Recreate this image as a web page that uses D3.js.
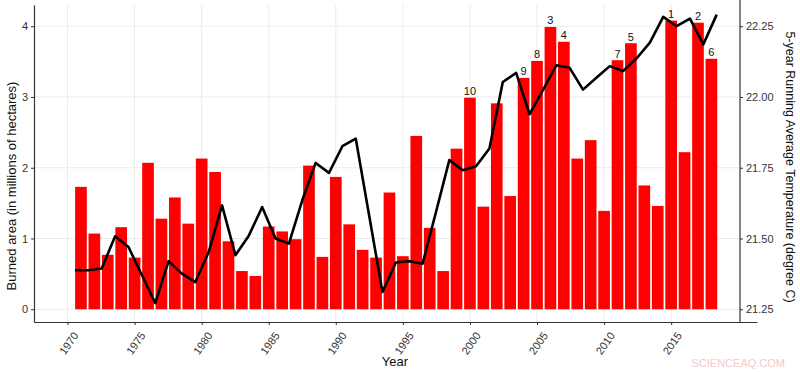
<!DOCTYPE html>
<html>
<head>
<meta charset="utf-8">
<script src="https://cdn.jsdelivr.net/npm/d3@7"></script>
<style>
  body { margin: 0; background: #fff; }
  text { font-family: "Liberation Sans", Arial, sans-serif; }
</style>
</head>
<body>
<div id="chart"></div>
<script>
// Chart size
const width = 800;
const height = 372;

// Burned area per year (millions of hectares)
const years = [1971, 1972, 1973, 1974, 1975, 1976, 1977, 1978, 1979, 1980,
               1981, 1982, 1983, 1984, 1985, 1986, 1987, 1988, 1989, 1990,
               1991, 1992, 1993, 1994, 1995, 1996, 1997, 1998, 1999, 2000,
               2001, 2002, 2003, 2004, 2005, 2006, 2007, 2008, 2009, 2010,
               2011, 2012, 2013, 2014, 2015, 2016, 2017, 2018];
const burned = [1.73, 1.07, 0.77, 1.16, 0.73, 2.07, 1.28, 1.58, 1.21, 2.13,
                1.94, 0.96, 0.54, 0.47, 1.17, 1.10, 0.99, 2.03, 0.74, 1.87,
                1.20, 0.84, 0.73, 1.65, 0.75, 2.45, 1.15, 0.54, 2.27, 2.99,
                1.45, 2.91, 1.60, 3.27, 3.51, 3.99, 3.78, 2.13, 2.39, 1.39,
                3.52, 3.76, 1.75, 1.46, 4.08, 2.22, 4.05, 3.54];

// Top ten years, in rank order (1 = largest)
const rankedYears = [2015, 2017, 2006, 2007, 2012, 2018, 2011, 2005, 2004, 2000];

// 5-year running average temperature (degree C)
const tempYears = [1970, 1971, 1972, 1973, 1974, 1975, 1976, 1977, 1978, 1979,
                   1980, 1981, 1982, 1983, 1984, 1985, 1986, 1987, 1988, 1989,
                   1990, 1991, 1992, 1993, 1994, 1995, 1996, 1997, 1998, 1999,
                   2000, 2001, 2002, 2003, 2004, 2005, 2006, 2007, 2008, 2009,
                   2010, 2011, 2012, 2013, 2014, 2015, 2016, 2017, 2018];
const temps = [21.388, 21.388, 21.394, 21.508, 21.470, 21.371, 21.272, 21.420, 21.376, 21.346,
               21.452, 21.617, 21.441, 21.510, 21.611, 21.500, 21.482, 21.635, 21.767, 21.732,
               21.826, 21.853, 21.582, 21.311, 21.415, 21.420, 21.411, 21.593, 21.777, 21.741,
               21.755, 21.818, 22.053, 22.085, 21.939, 22.024, 22.112, 22.103, 22.026, 22.068,
               22.109, 22.092, 22.136, 22.192, 22.283, 22.250, 22.277, 22.186, 22.291];

// Tick labels
const yearTicks = [1970, 1975, 1980, 1985, 1990, 1995, 2000, 2005, 2010, 2015];
const areaTicks = [0, 1, 2, 3, 4];
const tempTicks = [21.25, 21.50, 21.75, 22.00, 22.25];

const plotLeft = 34, plotRight = 740, plotTop = 5, plotBottom = 322;

let svg = d3.select("#chart").append("svg")
            .attr("width", width)
            .attr("height", height)

let x = d3.scaleLinear().domain([1967.5, 2021.4]).range([plotLeft, 757])
let y = d3.scaleLinear().domain([-0.18, 4.3]).range([plotBottom, plotTop])
let yT = d3.scaleLinear().domain([21.205, 22.325]).range([plotBottom, plotTop])
// the temperature line sits on its own slightly wider year scale
let xT = d3.scaleLinear().domain([1970, 2018]).range([75, 716.7])

const barW = (x(1) - x(0)) * 0.87;

// grid
svg.append("g").selectAll("line")
   .data(areaTicks)
   .enter().append("line")
   .attr("x1", plotLeft).attr("x2", plotRight)
   .attr("y1", d => y(d)).attr("y2", d => y(d))
   .attr("stroke", "#ebebeb")
svg.append("g").selectAll("line")
   .data(yearTicks)
   .enter().append("line")
   .attr("x1", d => x(d)).attr("x2", d => x(d))
   .attr("y1", plotTop).attr("y2", plotBottom)
   .attr("stroke", "#ebebeb")

// bars
svg.append("g").selectAll("rect")
   .data(years)
   .enter().append("rect")
   .attr("x", d => x(d) - barW / 2)
   .attr("width", barW)
   .attr("y", (d, i) => y(burned[i]))
   .attr("height", (d, i) => y(0) - y(burned[i]))
   .attr("fill", "#ff0000")

// rank labels above the bars
svg.append("g").selectAll("text")
   .data(rankedYears)
   .enter().append("text")
   .attr("x", d => x(d))
   .attr("y", d => y(burned[years.indexOf(d)]) - 2.5)
   .attr("text-anchor", "middle")
   .attr("font-size", 11)
   .attr("fill", "#111")
   .text((d, i) => i + 1)

// temperature line
let line = d3.line()
             .x((d, i) => xT(tempYears[i]))
             .y(d => yT(d))
svg.append("path")
   .datum(temps)
   .attr("d", line)
   .attr("fill", "none")
   .attr("stroke", "#000")
   .attr("stroke-width", 2.6)
   .attr("stroke-linejoin", "round")

// axes
let axisColor = "#333";

let gx = svg.append("g")
            .attr("transform", "translate(0," + plotBottom + ")")
            .call(d3.axisBottom(x).tickValues(yearTicks).tickFormat(d3.format("d")).tickSize(3).tickSizeOuter(0))
gx.select(".domain").attr("stroke", axisColor).attr("stroke-width", 1.2)
gx.selectAll(".tick line").attr("stroke", axisColor)
gx.selectAll(".tick text")
  .attr("font-size", 11)
  .attr("fill", "#333")
  .attr("text-anchor", "end")
  .attr("dy", 0)
  .attr("transform", "translate(6,10) rotate(-55)")

let gl = svg.append("g")
            .attr("transform", "translate(" + plotLeft + ",0)")
            .call(d3.axisLeft(y).tickValues(areaTicks).tickFormat(d3.format("d")).tickSize(3).tickSizeOuter(0))
gl.select(".domain").attr("stroke", axisColor).attr("stroke-width", 1.2)
gl.selectAll(".tick line").attr("stroke", axisColor)
gl.selectAll(".tick text").attr("font-size", 11).attr("fill", "#333")

let gr = svg.append("g")
            .attr("transform", "translate(" + plotRight + ",0)")
            .call(d3.axisRight(yT).tickValues(tempTicks).tickFormat(d3.format(".2f")).tickSize(3).tickSizeOuter(0))
gr.select(".domain").remove()
gr.selectAll(".tick line").attr("stroke", axisColor)
gr.selectAll(".tick text").attr("font-size", 11).attr("fill", "#333")
svg.append("line")
   .attr("x1", plotRight).attr("x2", plotRight)
   .attr("y1", 0).attr("y2", plotBottom)
   .attr("stroke", axisColor).attr("stroke-width", 1.2)

// axis titles
svg.append("text")
   .attr("transform", "translate(16,186) rotate(-90)")
   .attr("text-anchor", "middle")
   .attr("font-size", 13)
   .attr("fill", "#111")
   .text("Burned area (in millions of hectares)")

svg.append("text")
   .attr("transform", "translate(786,167) rotate(90)")
   .attr("text-anchor", "middle")
   .attr("font-size", 12.5)
   .attr("fill", "#111")
   .text("5-year Running Average Temperature (degree C)")

svg.append("text")
   .attr("x", 395)
   .attr("y", 366)
   .attr("text-anchor", "middle")
   .attr("font-size", 13)
   .attr("fill", "#111")
   .text("Year")

// watermark
svg.append("text")
   .attr("x", 785)
   .attr("y", 367)
   .attr("text-anchor", "end")
   .attr("font-size", 11)
   .attr("fill", "#f2c9c9")
   .text("SCIENCEAQ.COM")
</script>
</body>
</html>
